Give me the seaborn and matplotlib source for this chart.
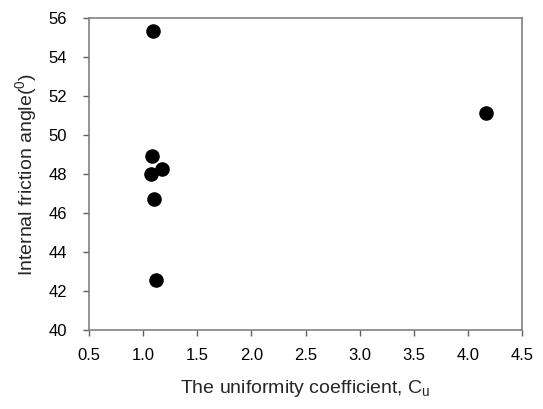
import matplotlib
matplotlib.use("Agg")
import matplotlib.pyplot as plt
import seaborn as sns
import pandas as pd

# data
cu = [1.09, 4.17, 1.08, 1.07, 1.17, 1.10, 1.12]
phi = [55.35, 51.15, 48.9, 48.0, 48.25, 46.7, 42.55]

df = pd.DataFrame({"Cu": cu, "phi": phi})

sns.set_style("white")
plt.rcParams["font.family"] = ["Liberation Sans", "DejaVu Sans"]
plt.rcParams["mathtext.fontset"] = "custom"
plt.rcParams["mathtext.rm"] = "Liberation Sans"

fig = plt.figure(figsize=(5.43, 4.09), dpi=100)
ax = fig.add_axes([89 / 543, 1 - 330 / 409, 433 / 543, 312 / 409])

sns.scatterplot(data=df, x="Cu", y="phi", ax=ax, color="black", s=110,
                edgecolor="black", linewidth=0, zorder=3)

ax.set_xlim(0.5, 4.5)
ax.set_ylim(40, 56)
ax.set_xticks([0.5, 1.0, 1.5, 2.0, 2.5, 3.0, 3.5, 4.0, 4.5])
ax.set_xticklabels(["0.5", "1.0", "1.5", "2.0", "2.5", "3.0", "3.5", "4.0", "4.5"])
ax.set_yticks(range(40, 57, 2))

for sp in ax.spines.values():
    sp.set_color("#808080")
    sp.set_linewidth(1.2)

ax.tick_params(axis="both", direction="out", length=4, width=1, color="#606060",
               labelsize=12, labelcolor="black")
ax.tick_params(axis="y", pad=12)
ax.tick_params(axis="x", pad=9)
ax.tick_params(top=False, right=False, left=True, bottom=True)

ax.set_xlabel("The uniformity coefficient, C$_\\mathregular{u}$", fontsize=14, labelpad=11)
ax.set_ylabel("Internal friction angle($^\\mathregular{0}$)", fontsize=14, labelpad=6)

fig.savefig("out.png", dpi=100)
